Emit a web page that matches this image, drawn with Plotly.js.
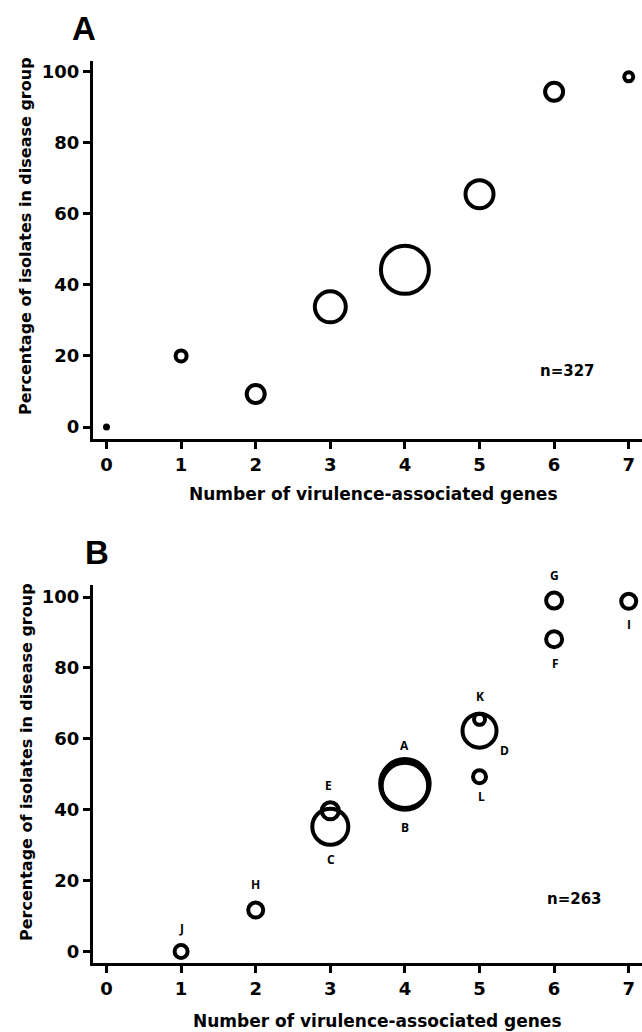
<!DOCTYPE html>
<html>
<head>
<meta charset="utf-8">
<script src="https://cdn.plot.ly/plotly-3.0.1.min.js"></script>
<style>html,body{margin:0;padding:0;background:#fff;}#chart{width:642px;height:1032px;}</style>
</head>
<body>
<div id="chart"></div>
<script>
// ---------- Panel A data ----------
const genesA = [0, 1, 2, 3, 4, 5, 6, 7];
const pctA   = [0, 20, 9.3, 33.8, 44.2, 65.5, 94.3, 98.5];
const sizeA  = [7, 11, 18, 31, 48, 28, 18, 9];   // bubble diameters (isolate count)

// ---------- Panel B data ----------
const labelsB = ['J', 'H', 'C', 'E', 'A', 'B', 'D', 'K', 'L', 'F', 'G', 'I'];
const genesB  = [1, 2, 3, 3, 4, 4, 5, 5, 5, 6, 6, 7];
const pctB    = [0, 11.7, 35.2, 39.7, 47.3, 46.7, 62.3, 65.5, 49.3, 88.1, 99, 98.8];
const sizeB   = [13, 15, 36, 17, 49, 47, 34, 11, 13, 16, 16, 15];

const xTicks = [0, 1, 2, 3, 4, 5, 6, 7];
const yTicks = [0, 20, 40, 60, 80, 100];
const nA = 'n=327';
const nB = 'n=263';
const xTitle = 'Number of virulence-associated genes';
const yTitle = 'Percentage of isolates in disease group';

// label offsets (pixels) for panel B letters
const labelDX = [0, 0, 1, -2, 0, 0, 25, 0, 2, 1, 0, 0];
const labelDY = [23, 26, -33, 25, 38, -42, -20, 23, -20, -24, 25, -23];

const W = 642, H = 1032;
const px = v => v / W;
const py = v => 1 - v / H;

const tickFont = {family: 'DejaVu Sans', size: 18, color: '#000', weight: 'bold'};
const xTitleFont = {family: 'DejaVu Sans, sans-serif', size: 17, color: '#000'};
const yTitleFont = {family: 'DejaVu Sans, sans-serif', size: 16, color: '#000'};
const nFont = {family: 'DejaVu Sans, sans-serif', size: 15, color: '#000'};

const traceA = {
  x: genesA, y: pctA, xaxis: 'x', yaxis: 'y', type: 'scatter', mode: 'markers',
  marker: {
    size: sizeA,
    symbol: genesA.map((g, i) => i === 0 ? 'circle' : 'circle-open'),
    color: '#000', opacity: 1,
    line: {color: '#000', width: genesA.map((g, i) => i === 0 ? 0 : 4)}
  },
  hoverinfo: 'x+y', showlegend: false
};
const traceB = {
  x: genesB, y: pctB, xaxis: 'x2', yaxis: 'y2', type: 'scatter', mode: 'markers',
  text: labelsB,
  marker: {
    size: sizeB, symbol: 'circle-open', color: '#000', opacity: 1,
    line: {color: '#000', width: labelsB.map(l => (l === 'A' || l === 'B') ? 4.5 : 4)}
  },
  hoverinfo: 'text+x+y', showlegend: false
};

function xAxis(anchor) {
  return {
    anchor: anchor, domain: [px(93), 1], range: [-0.181, 7.178],
    tickmode: 'array', tickvals: xTicks, ticktext: xTicks.map(v => '<b>' + v + '</b>'),
    showgrid: false, zeroline: false, showline: true, linecolor: '#000', linewidth: 3,
    ticks: 'outside', ticklen: 7, tickwidth: 3, tickcolor: '#000',
    tickfont: tickFont, fixedrange: true
  };
}
function yAxis(anchor, domain, range) {
  return {
    anchor: anchor, domain: domain, range: range,
    tickmode: 'array', tickvals: yTicks, ticktext: yTicks.map(v => '<b>' + v + '</b>'),
    showgrid: false, zeroline: false, showline: true, linecolor: '#000', linewidth: 3,
    ticks: 'outside', ticklen: 7, tickwidth: 3, tickcolor: '#000',
    tickfont: tickFont, fixedrange: true
  };
}

const annotations = [
  {text: '<b>A</b>', xref: 'paper', yref: 'paper', x: px(84), y: py(28), showarrow: false,
   xanchor: 'center', yanchor: 'middle', font: {family: 'Liberation Sans, Arial', size: 33, color: '#000'}},
  {text: '<b>B</b>', xref: 'paper', yref: 'paper', x: px(97), y: py(552), showarrow: false,
   xanchor: 'center', yanchor: 'middle', font: {family: 'Liberation Sans, Arial', size: 33, color: '#000'}},
  {text: '<b>' + nA + '</b>', xref: 'paper', yref: 'paper', x: px(567), y: py(371), showarrow: false,
   xanchor: 'center', yanchor: 'middle', font: nFont},
  {text: '<b>' + nB + '</b>', xref: 'paper', yref: 'paper', x: px(574), y: py(899), showarrow: false,
   xanchor: 'center', yanchor: 'middle', font: nFont},
  {text: '<b>' + xTitle + '</b>', xref: 'paper', yref: 'paper', x: px(374), y: py(494), showarrow: false,
   xanchor: 'center', yanchor: 'middle', font: xTitleFont},
  {text: '<b>' + xTitle + '</b>', xref: 'paper', yref: 'paper', x: px(377), y: py(1021), showarrow: false,
   xanchor: 'center', yanchor: 'middle', font: xTitleFont},
  {text: '<b>' + yTitle + '</b>', xref: 'paper', yref: 'paper', x: px(26), y: py(236), showarrow: false, textangle: -90,
   xanchor: 'center', yanchor: 'middle', font: yTitleFont},
  {text: '<b>' + yTitle + '</b>', xref: 'paper', yref: 'paper', x: px(26), y: py(762), showarrow: false, textangle: -90,
   xanchor: 'center', yanchor: 'middle', font: yTitleFont}
];
labelsB.forEach((l, i) => {
  annotations.push({
    text: '<b>' + l + '</b>', xref: 'x2', yref: 'y2', x: genesB[i], y: pctB[i], showarrow: false,
    xanchor: 'center', yanchor: 'middle', xshift: labelDX[i], yshift: labelDY[i],
    font: {family: 'Open Sans, sans-serif', size: 12, color: '#000'}
  });
});

const layout = {
  width: W, height: H,
  margin: {l: 0, r: 0, t: 0, b: 0, pad: 0},
  paper_bgcolor: '#fff', plot_bgcolor: '#fff',
  showlegend: false,
  xaxis: xAxis('y'),
  yaxis: yAxis('x', [py(439), py(61)], [-3.375, 102.95]),
  xaxis2: xAxis('y2'),
  yaxis2: yAxis('x2', [py(963), py(585)], [-3.24, 103.4]),
  annotations: annotations
};

Plotly.newPlot('chart', [traceA, traceB], layout, {displayModeBar: false, staticPlot: true});
</script>
</body>
</html>
